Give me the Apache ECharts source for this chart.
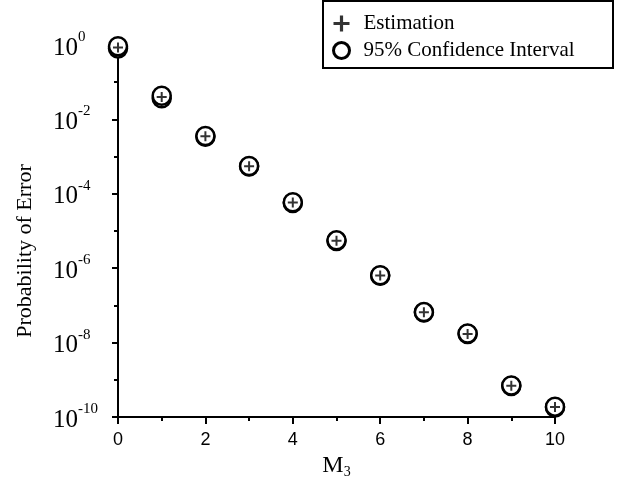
<!DOCTYPE html>
<html>
<head>
<meta charset="utf-8">
<script src="https://cdn.jsdelivr.net/npm/echarts@6/dist/echarts.min.js"></script>
<style>
  html, body { margin: 0; padding: 0; background: #fff; }
  #chart { width: 621px; height: 478px; }
</style>
</head>
<body>
<div id="chart"></div>
<script>
// M3 values on the x axis
const m3 = [0, 1, 2, 3, 4, 5, 6, 7, 8, 9, 10];
// estimated probability of error
const estimation = [0.86, 0.040, 3.5e-3, 5.5e-4, 5.8e-5, 5.5e-6, 6.4e-7, 6.5e-8, 1.7e-8, 6.9e-10, 1.85e-10];
// 95% confidence interval bounds
const ciLow = [0.80, 0.037, 3.4e-3, 5.4e-4, 5.7e-5, 5.4e-6, 6.3e-7, 6.4e-8, 1.7e-8, 6.8e-10, 1.8e-10];
const ciHigh = [0.92, 0.043, 3.6e-3, 5.6e-4, 5.9e-5, 5.6e-6, 6.5e-7, 6.6e-8, 1.75e-8, 7.0e-10, 1.9e-10];
const xTicks = [0, 2, 4, 6, 8, 10];
const yMajorTicks = [1e-10, 1e-8, 1e-6, 1e-4, 1e-2, 1];
const yMinorTicks = [1e-9, 1e-7, 1e-5, 1e-3, 1e-1];

const serif = '"Liberation Serif", "Times New Roman", serif';
const sans = '"Liberation Sans", Arial, sans-serif';
const plusPath = 'path://M4,0 L6,0 L6,4 L10,4 L10,6 L6,6 L6,10 L4,10 L4,6 L0,6 L0,4 L4,4 Z';

const ciData = [];
m3.forEach((x, i) => {
    ciData.push([x, ciLow[i]]);
    ciData.push([x, ciHigh[i]]);
});

const chart = echarts.init(document.getElementById('chart'), null, { renderer: 'canvas' });

chart.setOption({
    backgroundColor: '#fff',
    animation: false,
    grid: { left: 118, right: 66, top: 45, bottom: 61, outerBoundsMode: 'none', containLabel: false },
    graphic: [
        {
            type: 'rect',
            shape: { x: 323, y: 1, width: 290, height: 67 },
            style: { fill: 'none', stroke: '#000', lineWidth: 2 },
            z: 100
        }
    ],
    legend: {
        orient: 'vertical',
        left: 332,
        top: 13,
        itemWidth: 16,
        itemHeight: 16,
        itemGap: 6,
        padding: 0,
        textStyle: { fontFamily: serif, fontSize: 21, color: '#000', padding: [0, 0, 0, 9] },
        data: [
            { name: 'Estimation', icon: plusPath, itemStyle: { color: '#000', borderWidth: 0 } },
            { name: '95% Confidence Interval', icon: 'circle', itemStyle: { color: 'transparent', borderColor: '#000', borderWidth: 3 } }
        ]
    },
    xAxis: {
        type: 'value',
        min: 0,
        max: 10,
        interval: 2,
        name: '{m|M}{s|3}',
        nameLocation: 'middle',
        nameGap: 24,
        nameTextStyle: {
            rich: {
                m: { fontFamily: serif, fontSize: 24, color: '#000', lineHeight: 26 },
                s: { fontFamily: serif, fontSize: 14, color: '#000', lineHeight: 26, verticalAlign: 'bottom', padding: [8, 0, 0, 0] }
            }
        },
        axisLine: { onZero: false, lineStyle: { color: '#000', width: 2 } },
        axisTick: { show: true, length: 7, inside: false, lineStyle: { color: '#000', width: 2 } },
        minorTick: { show: true, splitNumber: 2, length: 4, lineStyle: { color: '#000', width: 2 } },
        splitLine: { show: false },
        axisLabel: {
            margin: 14,
            fontFamily: sans,
            fontSize: 18,
            color: '#000',
            customValues: xTicks
        }
    },
    yAxis: [
        {
            type: 'log',
            logBase: 10,
            min: 1e-10,
            max: 1,
            interval: 2,
            name: 'Probability of Error',
            nameLocation: 'middle',
            nameGap: 82,
            nameRotate: 90,
            nameTextStyle: { fontFamily: serif, fontSize: 22, color: '#000', padding: [0, 40, 0, 0] },
            axisLine: { onZero: false, lineStyle: { color: '#000', width: 2 } },
            axisTick: { show: true, length: 6, customValues: yMajorTicks, lineStyle: { color: '#000', width: 2 } },
            minorTick: { show: false },
            splitLine: { show: false },
            axisLabel: {
                margin: 65,
                align: 'left',
                customValues: yMajorTicks,
                formatter: v => '{b|10}{s|' + Math.round(Math.log10(v)) + '}',
                rich: {
                    b: { fontFamily: serif, fontSize: 25, color: '#000', padding: [6, 0, 0, 0] },
                    s: { fontFamily: serif, fontSize: 15, color: '#000', verticalAlign: 'top' }
                }
            }
        },
        {
            type: 'log',
            logBase: 10,
            min: 1e-10,
            max: 1,
            position: 'left',
            axisLine: { show: false },
            axisTick: { show: true, length: 4, customValues: yMinorTicks, lineStyle: { color: '#000', width: 2 } },
            axisLabel: { show: false },
            splitLine: { show: false }
        }
    ],
    series: [
        {
            name: '95% Confidence Interval',
            type: 'scatter',
            symbol: 'circle',
            symbolSize: 18,
            data: ciData,
            itemStyle: { color: '#fff', borderColor: '#000', borderWidth: 2.5, opacity: 1 },
            z: 2
        },
        {
            name: 'Estimation',
            type: 'scatter',
            symbol: plusPath,
            symbolSize: 10,
            data: m3.map((x, i) => [x, estimation[i]]),
            itemStyle: { color: '#000' },
            z: 3
        }
    ]
});
</script>
</body>
</html>
